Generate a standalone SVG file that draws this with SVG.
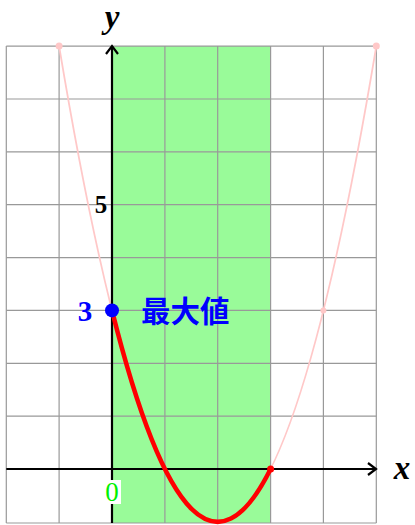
<svg xmlns="http://www.w3.org/2000/svg" width="415" height="525" viewBox="0 0 415 525">
<defs>
<style>
.grid{stroke:#999;stroke-width:1.2;fill:none}
.axis{stroke:#000;stroke-width:2.2;fill:none}
.lbl{font-family:"Liberation Serif","DejaVu Serif",serif;font-weight:bold}
.math{font-family:"Liberation Serif","DejaVu Serif",serif;font-weight:bold;font-style:italic;font-size:33px}
</style>
</defs>
<rect x="0" y="0" width="415" height="525" fill="#fff"/>
<g id="region">
<rect x="112" y="46.1" width="158.6" height="476.9" fill="#99fb99"/>
</g>
<g id="grid">
<path class="grid" d="M6.3,46.1V523M59.1,46.1V523M164.9,46.1V523M217.7,46.1V523M270.6,46.1V523M323.4,46.1V523M376.3,46.1V523"/>
<path class="grid" d="M6.3,46.1H376.3M6.3,99H376.3M6.3,151.8H376.3M6.3,204.7H376.3M6.3,257.6H376.3M6.3,310.4H376.3M6.3,363.3H376.3M6.3,416.1H376.3M6.3,523H376.3"/>
</g>
<g id="connectors">
<path d="M59.1,46.1 Q217.7,997.6 376.3,46.1" fill="none" stroke="#ffc8c8" stroke-width="1.8"/>
<line class="axis" x1="6.3" y1="469" x2="376" y2="469"/>
<path d="M368,463 L376,469 L368,475" fill="none" stroke="#000" stroke-width="2.2"/>
<line class="axis" x1="112" y1="523" x2="112" y2="46"/>
<path d="M106,54 L112,46 L118,54" fill="none" stroke="#000" stroke-width="2.2"/>
<path d="M112,310.4 Q191.3,627.6 270.6,469" fill="none" stroke="#ff0000" stroke-width="4.5"/>
</g>
<g id="points">
<circle cx="59.1" cy="46.1" r="3.5" fill="#ffc8c8"/>
<circle cx="376.3" cy="46.1" r="3.5" fill="#ffc8c8"/>
<circle cx="323.4" cy="310.4" r="3" fill="#ffc8c8"/>
<circle cx="270.6" cy="469" r="3.5" fill="#ff0000"/>
<circle cx="112" cy="310.4" r="7" fill="#0000ff"/>
</g>
<g id="labels">
<text class="math" x="112" y="28" text-anchor="middle">y</text>
<text class="math" x="402" y="479" text-anchor="middle">x</text>
<text class="lbl" x="101" y="213" font-size="25" text-anchor="middle" fill="#000">5</text>
<text class="lbl" x="85" y="321" font-size="29" text-anchor="middle" fill="#0000ff">3</text>
<rect x="103" y="480" width="18" height="24" fill="#fff"/>
<text x="112" y="501" font-family="Liberation Serif,DejaVu Serif,serif" font-size="27" text-anchor="middle" fill="#00f000">0</text>
<text x="141" y="322" font-family="'Noto Sans CJK JP','Noto Sans CJK SC',sans-serif" font-weight="bold" font-size="29.5" fill="#0000ff">最大値</text>
</g>
</svg>
